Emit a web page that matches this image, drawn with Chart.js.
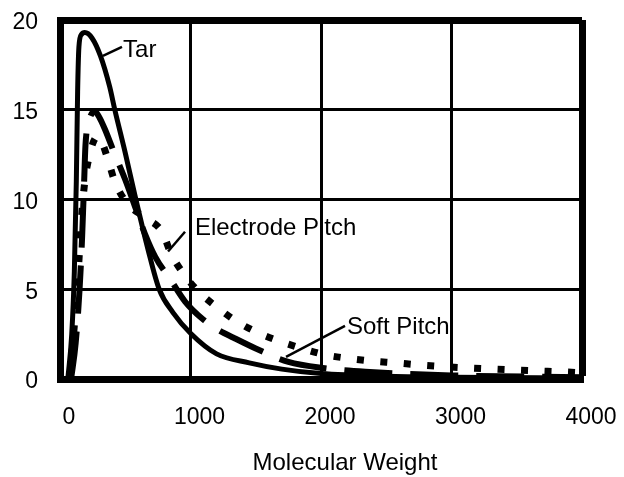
<!DOCTYPE html>
<html>
<head>
<meta charset="utf-8">
<script src="https://cdn.jsdelivr.net/npm/chart.js@4.4.1/dist/chart.umd.min.js"></script>
<style>
  html, body { margin: 0; padding: 0; background: #fff; }
  #wrap { width: 624px; height: 477px; }
</style>
</head>
<body>
<div id="wrap"><canvas id="c" width="624" height="477"></canvas></div>
<script>
// ---- data ----
const xTicks = [0, 1000, 2000, 3000, 4000];
const yTicks = [0, 5, 10, 15, 20];
const xTitle = 'Molecular Weight';

const seriesNames = ['Tar', 'Soft Pitch', 'Electrode Pitch'];

const tarMW  = [60, 90, 110, 125, 135, 145, 165, 190, 245, 310, 380, 420, 500, 575, 675, 760, 866, 1000, 1200, 1450, 1700, 2000, 2500, 3000, 4000];
const tarVal = [0, 2.5, 6, 11, 16, 18.5, 19.2, 19.3, 19.0, 18.0, 16.3, 15.0, 12.6, 10.2, 7.2, 5.0, 3.7, 2.55, 1.4, 0.9, 0.55, 0.3, 0.15, 0.1, 0.05];

const softMW  = [85, 120, 150, 170, 185, 195, 220, 268, 300, 345, 410, 500, 575, 650, 730, 850, 960, 1100, 1210, 1330, 1500, 1750, 2030, 2340, 3000, 4000];
const softVal = [0, 2, 5, 8, 11, 13, 14.3, 14.9, 14.6, 13.9, 12.7, 11.1, 9.6, 8.1, 6.8, 5.5, 4.3, 3.3, 2.75, 2.3, 1.7, 0.95, 0.6, 0.4, 0.2, 0.1];

const elecMW  = [70, 110, 140, 165, 190, 215, 250, 285, 320, 360, 420, 513, 650, 782, 850, 943, 1057, 1203, 1356, 1510, 1686, 1854, 2031, 2207, 2391, 2567, 2759, 2935, 3119, 3295, 3487, 3663, 3847, 4000];
const elecVal = [0, 3, 6, 9, 11, 12.1, 13.1, 13.5, 13.2, 12.4, 11.0, 9.8, 9.0, 8.2, 7.0, 5.9, 4.9, 4.0, 3.2, 2.6, 2.1, 1.7, 1.35, 1.15, 1.0, 0.9, 0.78, 0.69, 0.62, 0.56, 0.5, 0.45, 0.4, 0.35];

// callout labels (data units): label anchor and leader line ends
const calloutText  = ['Tar', 'Electrode Pitch', 'Soft Pitch'];
const calloutX     = [483, 1034, 2199];
const calloutY     = [18.3, 8.4, 2.85];
const leaderFromX  = [329, 828, 1732];
const leaderFromY  = [18.0, 7.1, 1.23];
const leaderToX    = [475, 958, 2184];
const leaderToY    = [18.5, 8.2, 2.96];

// ---- build ----
const zip = (xs, ys) => xs.map((x, i) => ({ x: x, y: ys[i] }));
const FONT = '"Liberation Sans", Arial, Helvetica, sans-serif';

const calloutPlugin = {
  id: 'callouts',
  afterDatasetsDraw(chart) {
    const { ctx, scales: { x, y }, chartArea } = chart;
    ctx.save();
    ctx.strokeStyle = '#000';
    ctx.lineWidth = 2.5;
    for (let i = 0; i < calloutText.length; i++) {
      ctx.beginPath();
      ctx.moveTo(x.getPixelForValue(leaderFromX[i]), y.getPixelForValue(leaderFromY[i]));
      ctx.lineTo(x.getPixelForValue(leaderToX[i]), y.getPixelForValue(leaderToY[i]));
      ctx.stroke();
    }
    ctx.fillStyle = '#000';
    ctx.font = '24px ' + FONT;
    ctx.textAlign = 'left';
    ctx.textBaseline = 'middle';
    for (let i = 0; i < calloutText.length; i++) {
      ctx.fillText(calloutText[i], x.getPixelForValue(calloutX[i]), y.getPixelForValue(calloutY[i]));
    }
    // x-axis title
    ctx.textAlign = 'center';
    ctx.fillText(xTitle, (chartArea.left + chartArea.right) / 2 + 24, chartArea.bottom + 84);
    ctx.restore();
  }
};

new Chart(document.getElementById('c'), {
  type: 'scatter',
  data: {
    datasets: [
      { label: seriesNames[0], data: zip(tarMW, tarVal), showLine: true, borderColor: '#000', borderWidth: 5,
        pointRadius: 0, cubicInterpolationMode: 'monotone', borderCapStyle: 'butt', borderJoinStyle: 'round' },
      { label: seriesNames[1], data: zip(softMW, softVal), showLine: true, borderColor: '#000', borderWidth: 6,
        borderDash: [48, 18], pointRadius: 0, cubicInterpolationMode: 'monotone', borderCapStyle: 'butt', borderJoinStyle: 'round' },
      { label: seriesNames[2], data: zip(elecMW, elecVal), showLine: true, borderColor: '#000', borderWidth: 7,
        borderDash: [7, 16.5], pointRadius: 0, cubicInterpolationMode: 'monotone', borderCapStyle: 'butt', borderJoinStyle: 'miter' }
    ]
  },
  options: {
    responsive: false,
    animation: false,
    events: [],
    layout: { padding: { top: 20, right: 42, left: 0, bottom: 0 } },
    plugins: { legend: { display: false }, tooltip: { enabled: false }, title: { display: false } },
    scales: {
      x: {
        type: 'linear', min: xTicks[0], max: xTicks[xTicks.length - 1],
        afterBuildTicks: s => { s.ticks = xTicks.map(v => ({ value: v })); },
        afterFit: s => { s.height = 98; s.paddingLeft = 0; s.paddingRight = 0; },
        ticks: { color: '#000', font: { family: FONT, size: 23 }, padding: 25, labelOffset: 9, maxRotation: 0,
                 callback: v => String(v) },
        grid: { color: '#000', lineWidth: c => (c.tick && c.tick.value === 4000 ? 7 : 3), drawTicks: false },
        border: { color: '#000', width: 7 }
      },
      y: {
        type: 'linear', min: yTicks[0], max: yTicks[yTicks.length - 1],
        afterBuildTicks: s => { s.ticks = yTicks.map(v => ({ value: v })); },
        afterFit: s => { s.width = 60; s.paddingTop = 0; s.paddingBottom = 0; },
        ticks: { color: '#000', font: { family: FONT, size: 23 }, padding: 22, labelOffset: 3,
                 callback: v => String(v) },
        grid: { color: '#000', lineWidth: c => (c.tick && c.tick.value === 20 ? 7 : 3), drawTicks: false },
        border: { color: '#000', width: 7 }
      }
    }
  },
  plugins: [calloutPlugin]
});
</script>
</body>
</html>
